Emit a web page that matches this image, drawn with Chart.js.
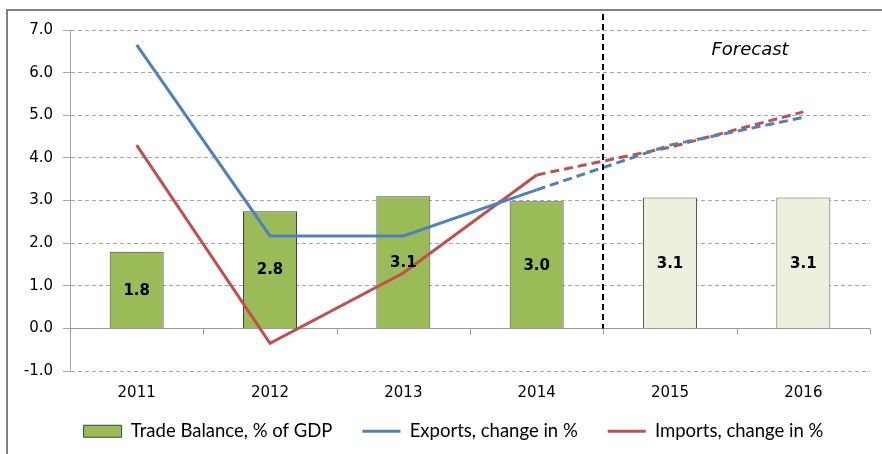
<!DOCTYPE html>
<html><head><meta charset="utf-8">
<script src="https://cdn.jsdelivr.net/npm/chart.js@4.4.0/dist/chart.umd.min.js"></script>
<style>html,body{margin:0;padding:0;background:#fff;}</style>
</head><body>
<canvas id="c" width="882" height="454"></canvas>
<script>
const categories = ['2011', '2012', '2013', '2014', '2015', '2016'];
const tradeBalance = [1.8, 2.75, 3.1, 2.98, 3.07, 3.07];
const tradeBalanceLabels = ['1.8', '2.8', '3.1', '3.0', '3.1', '3.1'];
const exportsChange = [6.65, 2.17, 2.17, 3.25, 4.3, 4.95];
const importsChange = [4.3, -0.35, 1.3, 3.6, 4.25, 5.08];
const yMin = -1, yMax = 7, yStep = 1;
const lastActualIndex = 3;
const forecastLabel = 'Forecast';

const barFill = categories.map((c, i) => i <= lastActualIndex ? '#9BBB59' : '#EBF1DE');
const barBorder = categories.map((c, i) => i <= lastActualIndex ? '#404040' : '#595959');
const dashAfter = ctx => ctx.p0DataIndex >= lastActualIndex ? [9, 5] : undefined;

const decor = {
  id: 'decor',
  afterLayout(chart) {
    const lg = chart.legend;
    lg.left += 14.5; lg.right += 14.5;
    lg.top = 392; lg.bottom = 454;
  },
  beforeDraw(chart) {
    const ctx = chart.ctx;
    ctx.save();
    ctx.strokeStyle = '#808080';
    ctx.lineWidth = 2;
    ctx.strokeRect(7, 10, 1000, 1000);
    ctx.restore();
  },
  beforeDatasetsDraw(chart) {
    const ctx = chart.ctx, x = chart.scales.x, y = chart.scales.y;
    const y0 = y.getPixelForValue(0);
    ctx.save();
    ctx.strokeStyle = '#999';
    ctx.lineWidth = 1;
    for (let i = 0; i <= categories.length; i++) {
      const px = Math.round(x.getPixelForValue(i - 0.5)) + 0.5;
      ctx.beginPath(); ctx.moveTo(px, y0); ctx.lineTo(px, y0 + 6); ctx.stroke();
    }
    ctx.restore();
  },
  afterDatasetsDraw(chart) {
    const ctx = chart.ctx, x = chart.scales.x, y = chart.scales.y;
    const y0 = y.getPixelForValue(0);
    ctx.save();
    const dx = Math.round(x.getPixelForValue(lastActualIndex + 0.5));
    ctx.strokeStyle = '#000';
    ctx.lineWidth = 2;
    ctx.setLineDash([6, 4]);
    ctx.beginPath(); ctx.moveTo(dx, 14); ctx.lineTo(dx, y0); ctx.stroke();
    ctx.setLineDash([]);
    ctx.fillStyle = '#000';
    ctx.font = 'italic 18px "DejaVu Sans"';
    ctx.textAlign = 'center';
    ctx.textBaseline = 'middle';
    ctx.fillText(forecastLabel, x.getPixelForValue(4.6), y.getPixelForValue(6.53));
    const meta = chart.getDatasetMeta(0);
    ctx.font = 'bold 15px "DejaVu Sans"';
    meta.data.forEach((bar, i) => {
      ctx.fillText(tradeBalanceLabels[i], bar.x, (bar.y + bar.base) / 2 + 1);
    });
    ctx.restore();
  }
};

new Chart(document.getElementById('c'), {
  type: 'bar',
  data: {
    labels: categories,
    datasets: [
      {
        type: 'bar', label: 'Trade Balance, % of GDP', data: tradeBalance, order: 1,
        backgroundColor: barFill, borderColor: barBorder, borderWidth: 1,
        barPercentage: 0.405, categoryPercentage: 1, pointStyle: 'rect'
      },
      {
        type: 'line', label: 'Exports, change in %', data: exportsChange, order: 0,
        borderColor: '#4F81BD', backgroundColor: '#4F81BD', borderWidth: 3,
        pointRadius: 0, tension: 0, pointStyle: 'line', segment: { borderDash: dashAfter }
      },
      {
        type: 'line', label: 'Imports, change in %', data: importsChange, order: 0,
        borderColor: '#C0504D', backgroundColor: '#C0504D', borderWidth: 3,
        pointRadius: 0, tension: 0, pointStyle: 'line', segment: { borderDash: dashAfter }
      }
    ]
  },
  options: {
    responsive: false,
    animation: false,
    devicePixelRatio: 1,
    layout: { padding: { left: 8, right: 12, top: 30, bottom: 6 } },
    plugins: {
      tooltip: { enabled: false },
      legend: {
        position: 'bottom',
        maxHeight: 36,
        labels: {
          usePointStyle: true, pointStyleWidth: 38, boxHeight: 12, padding: 30,
          font: { family: 'Lato', size: 18.5 }, color: '#000',
          sort: (a, b) => a.datasetIndex - b.datasetIndex
        }
      }
    },
    scales: {
      x: {
        offset: true,
        grid: { display: false, drawTicks: false },
        border: { display: false },
        ticks: { padding: 13, color: '#000', font: { family: 'DejaVu Sans', size: 15 } },
        afterFit: s => { s.height = 41; }
      },
      y: {
        min: yMin, max: yMax,
        grid: {
          color: ctx => ctx.tick && ctx.tick.value === 0 ? '#9a9a9a' : '#a6a6a6',
          tickLength: 7, tickColor: '#a6a6a6', tickBorderDash: []
        },
        border: {
          display: true, color: '#a6a6a6', width: 1,
          dash: ctx => (ctx.tick && ctx.tick.value === 0) ? [] : [4, 3]
        },
        ticks: {
          stepSize: yStep, padding: 10, color: '#000',
          font: { family: 'DejaVu Sans', size: 15 },
          callback: v => v.toFixed(1)
        },
        afterFit: s => { s.width = 62; }
      }
    }
  },
  plugins: [decor]
});
</script>
</body></html>
